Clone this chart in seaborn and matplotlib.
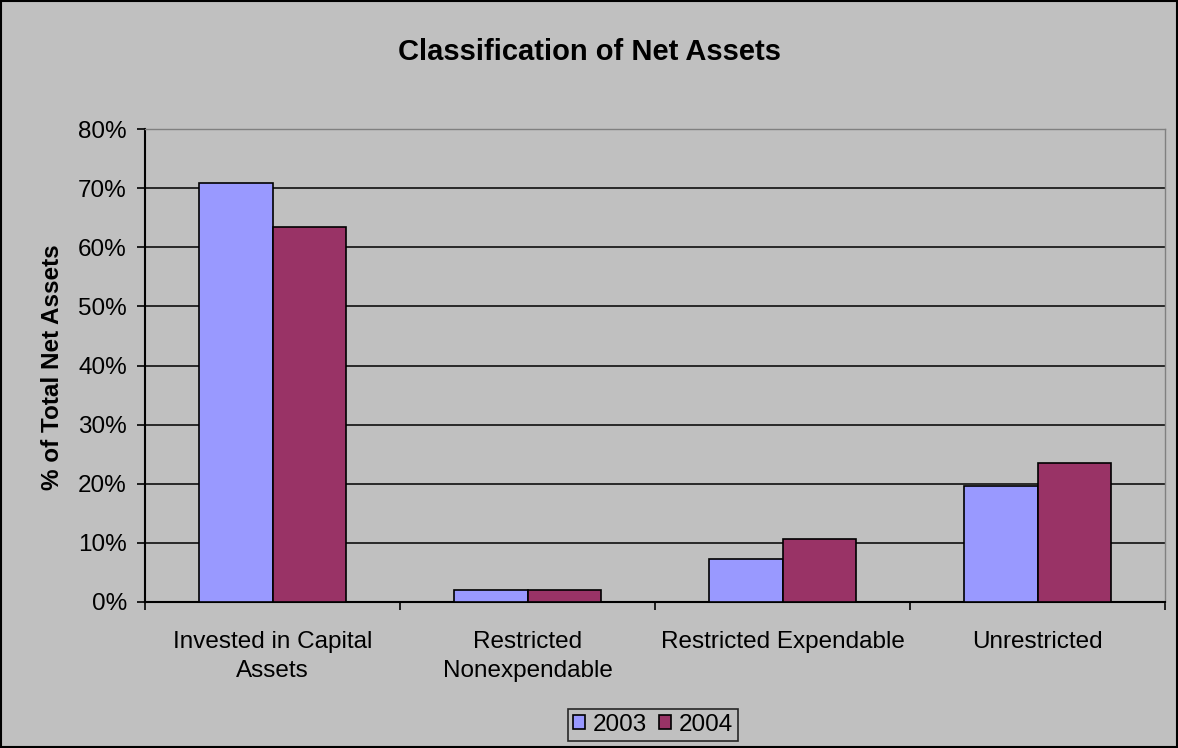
import pandas as pd
import numpy as np
import matplotlib
matplotlib.use('Agg')
import matplotlib.pyplot as plt
import seaborn as sns
from matplotlib.patches import Rectangle

categories = ['Invested in Capital\nAssets', 'Restricted\nNonexpendable',
              'Restricted Expendable', 'Unrestricted']
years = ['2003', '2004']
vals_2003 = [70.8, 2.1, 7.2, 19.7]
vals_2004 = [63.4, 2.1, 10.6, 23.5]
yticks = [0, 10, 20, 30, 40, 50, 60, 70, 80]

df = pd.DataFrame({
    'category': categories * 2,
    'year': [years[0]] * 4 + [years[1]] * 4,
    'value': vals_2003 + vals_2004,
})

sns.set_style('white')
plt.rcParams['font.family'] = ['Liberation Sans', 'DejaVu Sans']
plt.rcParams['text.color'] = 'black'
plt.rcParams['axes.labelcolor'] = 'black'
plt.rcParams['xtick.color'] = 'black'
plt.rcParams['ytick.color'] = 'black'

bg = '#C0C0C0'
fs = 17.5
fig = plt.figure(figsize=(11.78, 7.48), dpi=100, facecolor=bg)
ax = fig.add_axes([145 / 1178, 1 - 602 / 748, 1020 / 1178, 473 / 748])
ax.set_facecolor(bg)

sns.barplot(data=df, x='category', y='value', hue='year',
            palette=['#9999FF', '#993366'], width=0.575,
            edgecolor='black', linewidth=1.2, saturation=1,
            ax=ax, legend=False, zorder=3)

ax.set_ylim(0, 80)
ax.set_xlim(-0.5, 3.5)
ax.set_yticks(yticks)
ax.set_yticklabels([f'{t}%' for t in yticks], fontsize=fs)
ax.yaxis.grid(True, color='black', linewidth=1.1, zorder=0)
ax.set_axisbelow(True)
ax.tick_params(axis='y', direction='out', length=6, width=1.2, color='black', pad=7, left=True)

ax.set_xticks(range(4))
ax.set_xticklabels(categories, fontsize=fs, linespacing=1.4)
ax.set_xticks([-0.5, 0.5, 1.5, 2.5, 3.5], minor=True)
ax.tick_params(axis='x', which='major', length=0, pad=21)
ax.tick_params(axis='x', which='minor', direction='out', length=6, width=1.2, color='black', bottom=True)

for side in ['left', 'bottom']:
    ax.spines[side].set_color('black')
    ax.spines[side].set_linewidth(1.5)
for side in ['top', 'right']:
    ax.spines[side].set_color('#808080')
    ax.spines[side].set_linewidth(1)

ax.set_xlabel('')
ax.set_ylabel('% of Total Net Assets', fontsize=fs, fontweight='bold')
ax.yaxis.set_label_coords(-81 / 1020, (602 - 367) / 473)

fig.text(0.5, 1 - 52 / 748, 'Classification of Net Assets', ha='center', va='center',
         fontsize=21, fontweight='bold')

handles = [Rectangle((0, 0), 1, 1, facecolor='#9999FF', edgecolor='black', linewidth=1.2),
           Rectangle((0, 0), 1, 1, facecolor='#993366', edgecolor='black', linewidth=1.2)]
leg = fig.legend(handles, years, loc='center', bbox_to_anchor=(653 / 1178, 1 - 725 / 748),
                 ncol=2, fontsize=fs, frameon=True, fancybox=False,
                 handlelength=0.5, handleheight=0.5, handletextpad=0.3, columnspacing=0.5,
                 borderpad=0.2, borderaxespad=0)
leg.get_frame().set_edgecolor('black')
leg.get_frame().set_facecolor(bg)
leg.get_frame().set_linewidth(1.2)

fig.add_artist(Rectangle((0.001, 0.001), 0.998, 0.998, transform=fig.transFigure,
                         fill=False, edgecolor='black', linewidth=1.5))

fig.savefig('out.png', dpi=100, facecolor=bg)
